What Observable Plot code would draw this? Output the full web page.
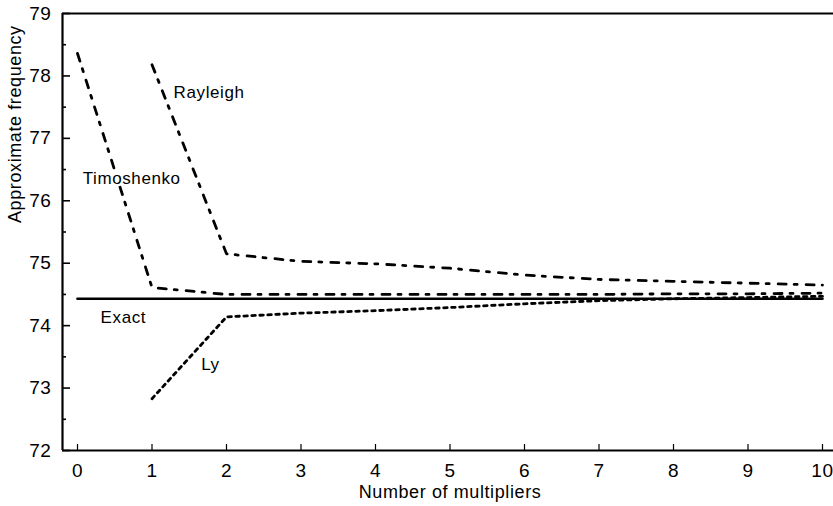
<!DOCTYPE html>
<html>
<head>
<meta charset="utf-8">
<script src="https://cdn.jsdelivr.net/npm/d3@7"></script>
<script src="https://cdn.jsdelivr.net/npm/@observablehq/plot@0.6"></script>
<style>
  html, body { margin: 0; padding: 0; background: #fff; }
  svg text { letter-spacing: 0.6px; }
</style>
</head>
<body>
<div id="chart"></div>
<script>
// ---- data ----
const multipliers = [0, 1, 2, 3, 4, 5, 6, 7, 8, 9, 10];
const timoshenko = [78.36, 74.61, 74.5, 74.5, 74.5, 74.5, 74.5, 74.5, 74.51, 74.51, 74.52];
const rayleighX = [1, 2, 3, 4, 5, 6, 7, 8, 9, 10];
const rayleigh = [78.18, 75.15, 75.03, 74.99, 74.92, 74.81, 74.74, 74.71, 74.68, 74.65];
const lyX = [1, 2, 3, 4, 5, 6, 7, 8, 9, 10];
const ly = [72.83, 74.14, 74.2, 74.24, 74.29, 74.35, 74.4, 74.43, 74.45, 74.47];
const exact = [74.43, 74.43, 74.43, 74.43, 74.43, 74.43, 74.43, 74.43, 74.43, 74.43, 74.43];
const yTicks = [72, 73, 74, 75, 76, 77, 78, 79];
const yMinor = [72.5, 73.5, 74.5, 75.5, 76.5, 77.5, 78.5];
const xTicks = [0, 1, 2, 3, 4, 5, 6, 7, 8, 9, 10];
const labelNames = ["Rayleigh", "Timoshenko", "Exact", "Ly"];
const labelX = [1.29, 0.07, 0.31, 1.66];
const labelY = [77.73, 76.36, 74.13, 73.37];

const pts = (xs, ys) => xs.map((x, i) => ({x, y: ys[i]}));
const labels = labelNames.map((t, i) => ({t, x: labelX[i], y: labelY[i]}));

const xLeft = -15 / 74.5;
const xRight = 756 / 74.5;
const dashDot = "8,8,3,9";

const chart = Plot.plot({
  width: 833,
  height: 506,
  marginLeft: 62,
  marginRight: 0,
  marginTop: 13,
  marginBottom: 56,
  style: {fontFamily: "'Liberation Sans', Arial, sans-serif", fontSize: "17px", color: "black", background: "white"},
  x: {domain: [xLeft, xRight], axis: null},
  y: {domain: [72, 79], axis: null},
  marks: [
    // frame lines
    Plot.ruleY([79], {x1: () => xLeft, x2: () => xRight, stroke: "black", strokeWidth: 2.2}),
    Plot.ruleY([72], {x1: () => xLeft, x2: () => xRight, stroke: "black", strokeWidth: 2.2}),
    Plot.ruleX([xLeft], {y1: () => 72, y2: () => 79, stroke: "black", strokeWidth: 2.2}),
    // ticks (inward)
    Plot.ruleY(yTicks, {x1: () => xLeft, x2: () => xLeft + 8 / 74.5, stroke: "black", strokeWidth: 1.6}),
    Plot.ruleY(yMinor, {x1: () => xLeft, x2: () => xLeft + 4 / 74.5, stroke: "black", strokeWidth: 1.6}),
    Plot.ruleX(xTicks, {y1: () => 72, y2: () => 72 + 6 / 62.4, stroke: "black", strokeWidth: 1.2}),
    // tick labels
    Plot.axisY(yTicks, {tickSize: 0, tickPadding: 11, fontSize: 19, label: null, tickFormat: d => String(d)}),
    Plot.axisX(xTicks, {tickSize: 0, tickPadding: 13, fontSize: 19, label: null, tickFormat: d => String(d)}),
    // axis titles
    Plot.text(["Number of multipliers"], {frameAnchor: "bottom", dy: 42, fontSize: 18, lineAnchor: "middle", dx: 2}),
    Plot.text(["Approximate frequency"], {frameAnchor: "left", rotate: -90, dx: -47, dy: -9, fontSize: 18, lineAnchor: "middle"}),
    // series
    Plot.line(pts(multipliers, exact), {x: "x", y: "y", stroke: "black", strokeWidth: 2.6}),
    Plot.line(pts(lyX, ly), {x: "x", y: "y", stroke: "black", strokeWidth: 2.8, strokeDasharray: "3.5,4.5"}),
    Plot.line(pts(multipliers, timoshenko), {x: "x", y: "y", stroke: "black", strokeWidth: 2.8, strokeDasharray: dashDot}),
    Plot.line(pts(rayleighX, rayleigh), {x: "x", y: "y", stroke: "black", strokeWidth: 2.8, strokeDasharray: dashDot}),
    // series labels (white halo hides the line behind the text)
    Plot.text(labels, {x: "x", y: "y", text: "t", textAnchor: "start", lineAnchor: "middle", fontSize: 17, fill: "black", stroke: "white", strokeWidth: 5})
  ]
});
document.getElementById("chart").appendChild(chart);
</script>
</body>
</html>
